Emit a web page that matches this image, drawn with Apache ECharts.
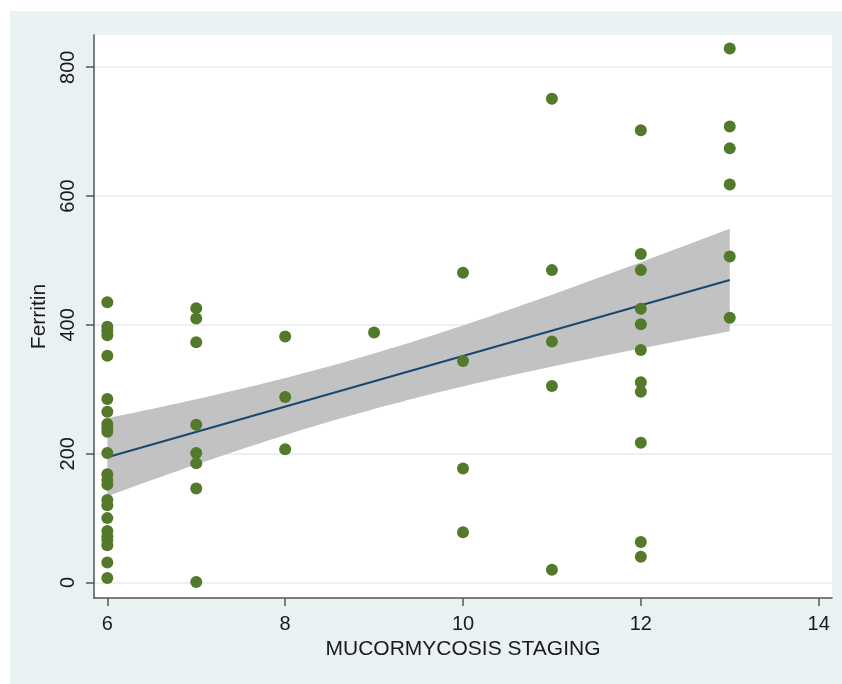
<!DOCTYPE html>
<html><head><meta charset="utf-8">
<script src="https://cdn.jsdelivr.net/npm/echarts@6/dist/echarts.min.js"></script>
<style>
html,body{margin:0;padding:0;background:#fff;}
#bg{position:absolute;left:10px;top:11px;width:832px;height:673px;background:#e9f1f3;}
#c{position:absolute;left:0;top:0;width:842px;height:684px;}
</style>
</head><body><div id="bg"></div><div id="c"></div>
<script>
// Ferritin values read per mucormycosis stage
const ferritinStage6 = [435,397,391,384,352,285,265,246,240,234,201,168,159,152,128,120,100,80,72,66,58,31,7];
const ferritinStage7 = [426,410,373,245,201,185,146,1];
const ferritinStage8 = [382,288,207];
const ferritinStage9 = [388];
const ferritinStage10 = [481,344,177,78];
const ferritinStage11 = [751,485,374,305,20];
const ferritinStage12 = [702,510,485,425,401,361,311,296,217,63,40];
const ferritinStage13 = [829,708,674,618,506,411];
const stages = [6,7,8,9,10,11,12,13];
const xTicks = [6,8,10,12,14];
const yTicks = [0,200,400,600,800];

const groups = [ferritinStage6,ferritinStage7,ferritinStage8,ferritinStage9,ferritinStage10,ferritinStage11,ferritinStage12,ferritinStage13];
const points = [];
stages.forEach((s,i)=>groups[i].forEach(v=>points.push([s,v])));

// linear fit with 95% CI of the mean (as Stata lfitci)
const n = points.length;
const xbar = points.reduce((a,p)=>a+p[0],0)/n;
const ybar = points.reduce((a,p)=>a+p[1],0)/n;
let sxx=0,sxy=0;
points.forEach(p=>{sxx+=(p[0]-xbar)**2; sxy+=(p[0]-xbar)*(p[1]-ybar);});
const b = sxy/sxx, a = ybar - b*xbar;
let sse=0; points.forEach(p=>{sse+=(p[1]-a-b*p[0])**2;});
const s = Math.sqrt(sse/(n-2));
const tcrit = 2.001;
const xLo = stages[0], xHi = stages[stages.length-1];
const bandPts = [];
for(let k=0;k<=70;k++){
  const x = xLo + (xHi-xLo)*k/70;
  const yh = a+b*x;
  const se = s*Math.sqrt(1/n + (x-xbar)**2/sxx);
  bandPts.push([x, yh-tcrit*se, yh+tcrit*se]);
}

const chart = echarts.init(document.getElementById('c'), null, {renderer:'canvas'});
const font = '"Liberation Sans", Arial, sans-serif';
chart.setOption({
  animation:false,
  grid:{left:94,right:10,top:35,bottom:86,show:true,backgroundColor:'#ffffff',borderWidth:0},
  xAxis:{
    type:'value',min:5.85,max:14.15,
    name:'MUCORMYCOSIS STAGING',nameLocation:'middle',nameGap:41,
    nameTextStyle:{fontFamily:font,fontSize:21,color:'#1a1a1a'},
    axisLine:{onZero:false,lineStyle:{color:'#555',width:1.5}},
    axisTick:{show:true,length:8,customValues:xTicks,lineStyle:{color:'#555',width:1.5}},
    axisLabel:{customValues:xTicks,fontFamily:font,fontSize:20,color:'#1a1a1a',margin:16},
    splitLine:{show:false}
  },
  yAxis:{
    type:'value',min:-24,max:850,
    name:'Ferritin',nameLocation:'middle',nameGap:34,nameRotate:90,
    nameTextStyle:{fontFamily:font,fontSize:21,color:'#1a1a1a'},
    axisLine:{onZero:false,lineStyle:{color:'#555',width:1.5}},
    axisTick:{show:true,length:8,customValues:yTicks,lineStyle:{color:'#555',width:1.5}},
    axisLabel:{customValues:yTicks,rotate:90,fontFamily:font,fontSize:20,color:'#1a1a1a',margin:16},
    splitLine:{show:true,lineStyle:{color:'#e3edf0',width:1.5}}
  },
  series:[
    {type:'custom',z:1,silent:true,data:[[xLo,0]],
     renderItem:function(params,api){
       const up = bandPts.map(p=>api.coord([p[0],p[2]]));
       const lo = bandPts.slice().reverse().map(p=>api.coord([p[0],p[1]]));
       return {type:'polygon',shape:{points:up.concat(lo)},style:{fill:'#c2c2c2',stroke:null}};
     }},
    {type:'line',z:2,silent:true,showSymbol:false,data:[[xLo,a+b*xLo],[xHi,a+b*xHi]],
     lineStyle:{color:'#1a476f',width:2}},
    {type:'scatter',z:3,data:points,symbolSize:12,itemStyle:{color:'#53792a',opacity:1}}
  ]
});
</script></body></html>
